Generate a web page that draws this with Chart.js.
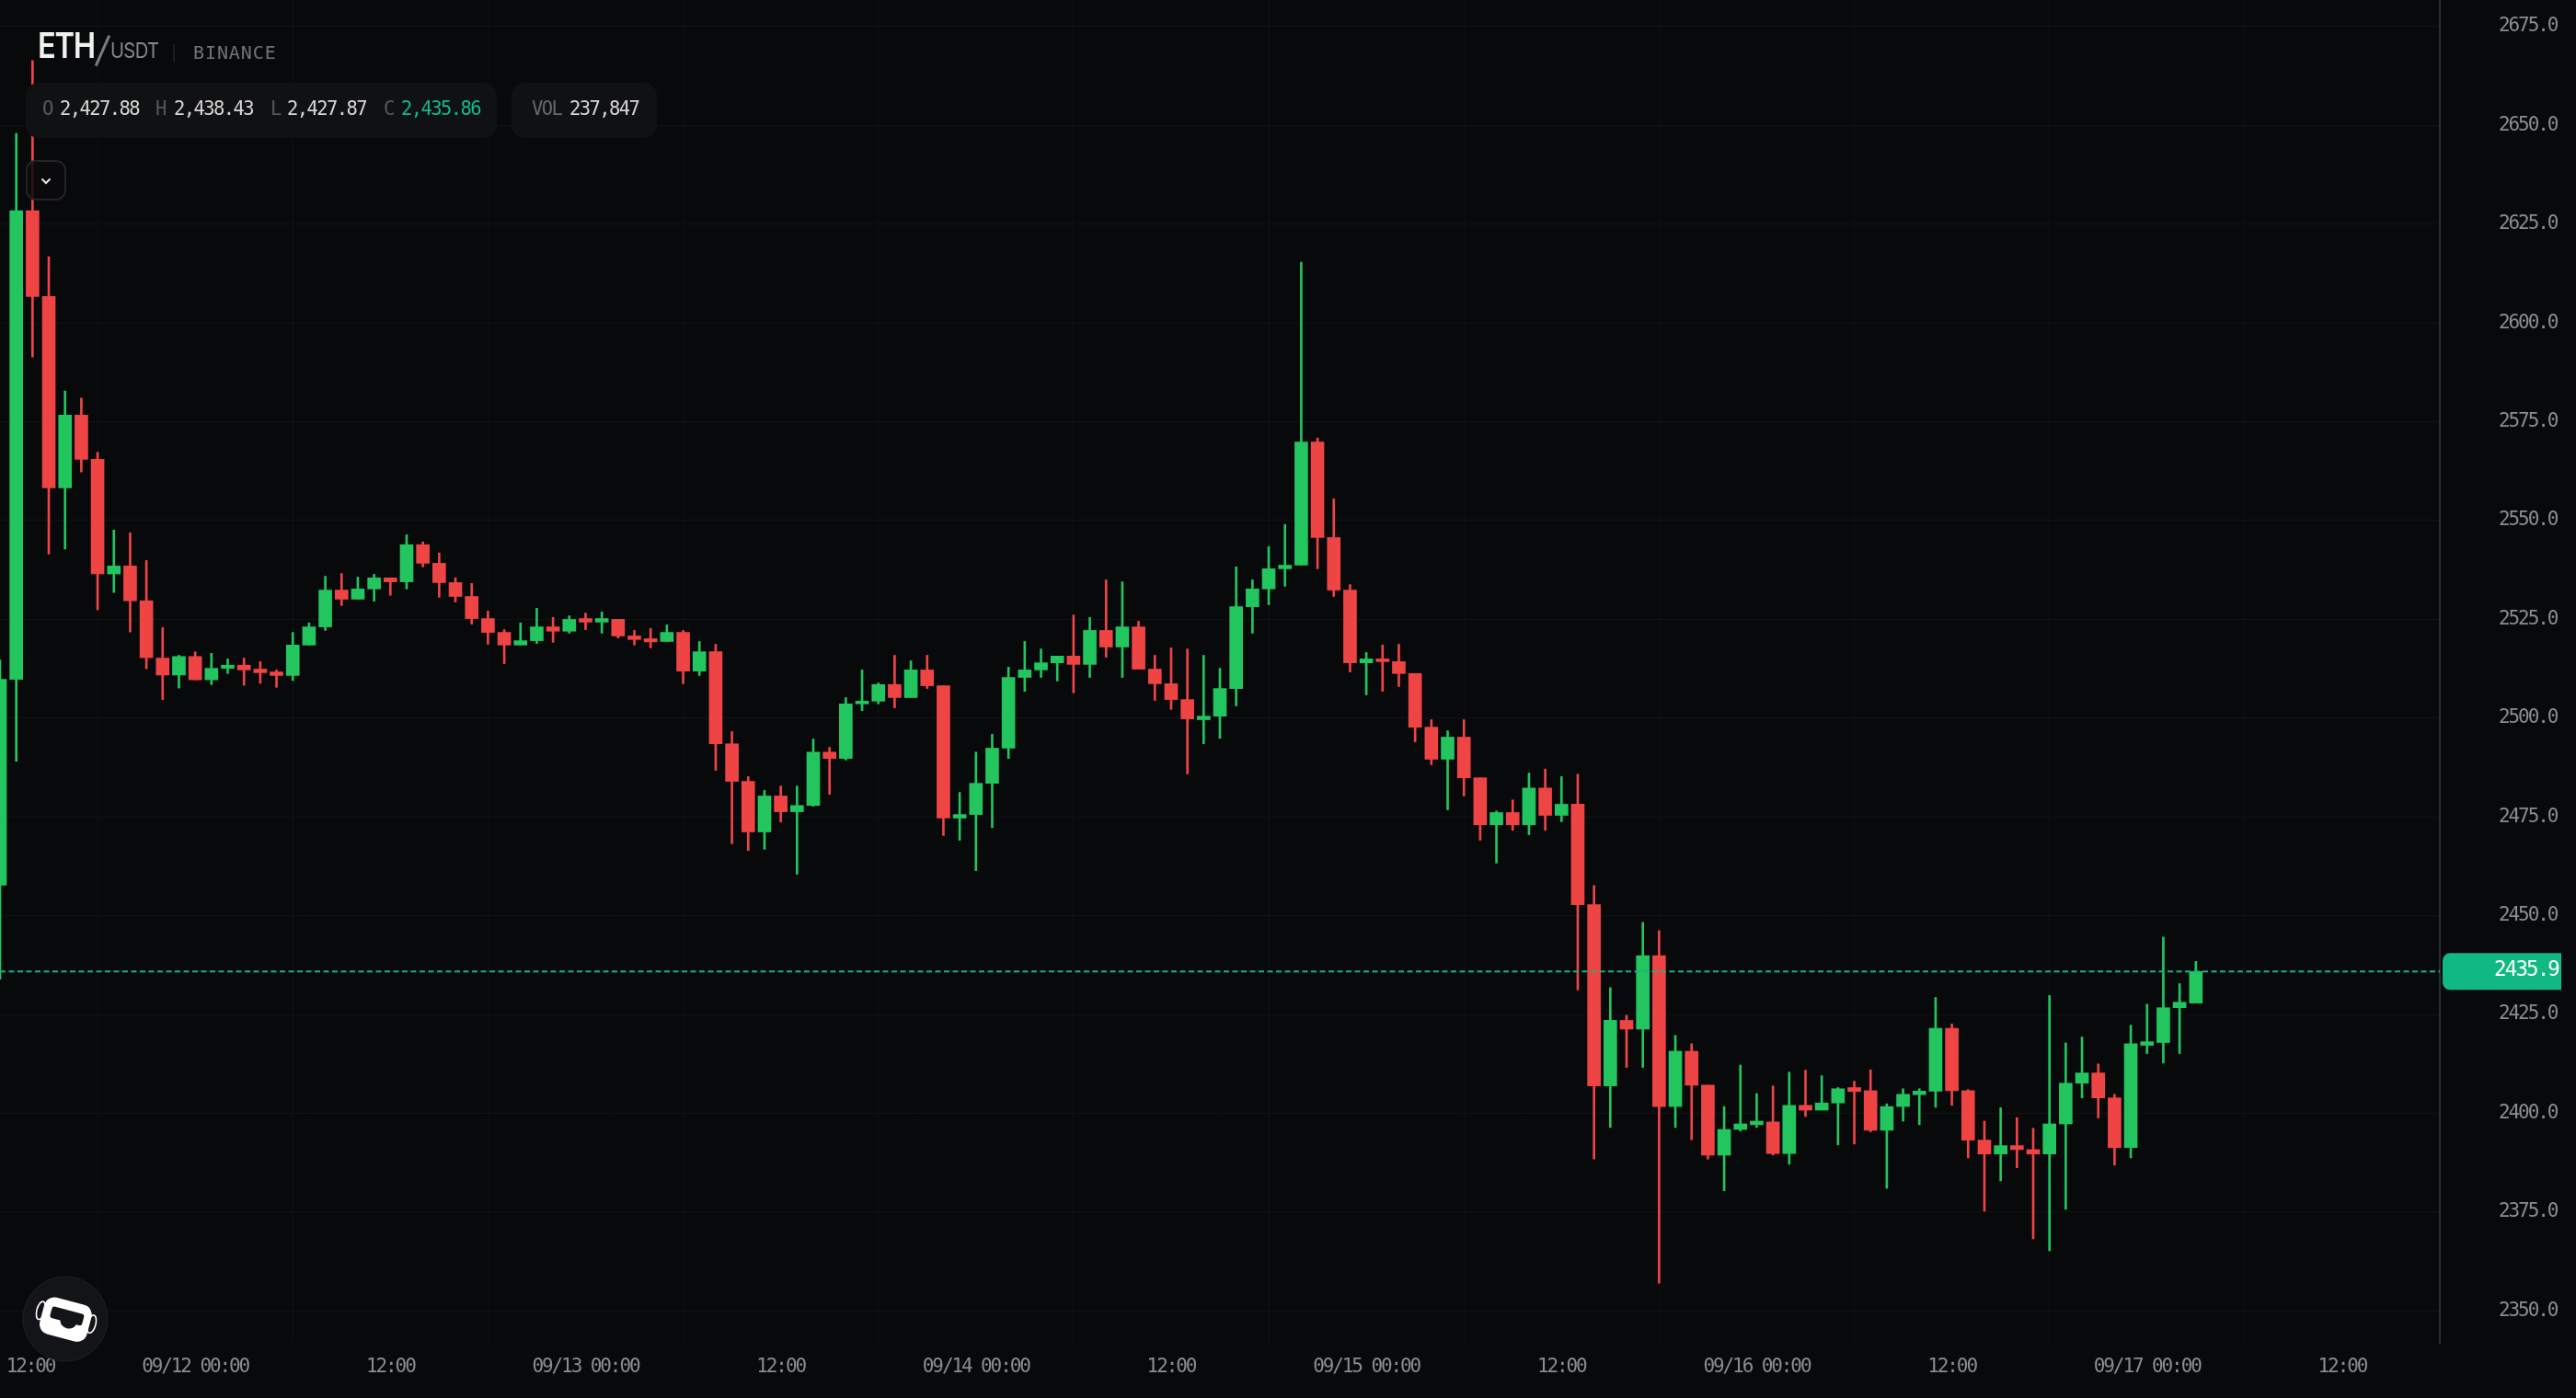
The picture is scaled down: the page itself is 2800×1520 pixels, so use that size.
<!DOCTYPE html>
<html>
<head>
<meta charset="utf-8">
<title>ETH/USDT</title>
<script src="https://cdn.jsdelivr.net/npm/chart.js@4"></script>
<style>
html, body { margin: 0; background: #08090b; overflow: hidden; }
#wrap { position: relative; width: 2800px; height: 1520px; }
canvas { position: absolute; left: 0; top: 0; }
.t { position: absolute; white-space: nowrap; font-family: "DejaVu Sans Mono", monospace; font-size: 20.5px; letter-spacing: -1.6px; line-height: 24px; color: #d6d6d6; }
.dim { color: #55575c; }
.pill { position: absolute; background: #101113; border-radius: 14px; top: 90px; height: 60px; }
#eth { left: 41px; top: 26px; font: 600 38px/46px Inter, sans-serif; color: #f0f0f0; letter-spacing: -1.5px; transform: scaleX(.86); transform-origin: left top; }
#slash { left: 110px; top: 37px; width: 2.5px; height: 36px; background: #7a7c82; transform: rotate(24deg); position: absolute; }
#usdt { left: 120px; top: 41px; font: 400 23px/28px Inter, sans-serif; color: #84868c; letter-spacing: -.8px; transform: scaleX(.88); transform-origin: left top; }
#sep { position: absolute; left: 188px; top: 48px; width: 2px; height: 20px; background: #1b1c1f; }
#binance { left: 210px; top: 45px; font: 400 20px/24px "DejaVu Sans Mono", monospace; color: #6f7278; letter-spacing: .9px; }
#toggle { position: absolute; left: 28px; top: 174px; width: 40px; height: 40px; border: 2px solid #222327; border-radius: 11px; background: rgba(10,11,13,.85); }
#logo { position: absolute; left: 24px; top: 1387px; }
</style>
</head>
<body>
<div id="wrap">
  <canvas id="chart" width="2800" height="1520"></canvas>

  <div class="t" id="eth">ETH</div>
  <div id="slash"></div>
  <div class="t" id="usdt">USDT</div>
  <div id="sep"></div>
  <div class="t" id="binance">BINANCE</div>

  <div class="pill" style="left:28px;width:512px"></div>
  <div class="pill" style="left:556px;width:158px"></div>
  <div class="t dim" style="left:46px;top:106px">O</div>
  <div class="t" style="left:65px;top:106px">2,427.88</div>
  <div class="t dim" style="left:169px;top:106px">H</div>
  <div class="t" style="left:189px;top:106px">2,438.43</div>
  <div class="t dim" style="left:294px;top:106px">L</div>
  <div class="t" style="left:312px;top:106px">2,427.87</div>
  <div class="t dim" style="left:417px;top:106px">C</div>
  <div class="t" style="left:436px;top:106px;color:#14b98a">2,435.86</div>
  <div class="t dim" style="left:578px;top:106px;color:#66686d">VOL</div>
  <div class="t" style="left:619px;top:106px">237,847</div>

  <div id="toggle">
    <svg width="40" height="40" viewBox="0 0 40 40"><path d="M15.5 18.5 L20 23 L24.5 18.5" fill="none" stroke="#e8e8e8" stroke-width="2"/></svg>
  </div>

  <svg id="logo" width="94" height="94" viewBox="-47 -47 94 94">
    <circle cx="0" cy="0" r="46" fill="#131417" stroke="#202125" stroke-width="1"/>
    <g transform="rotate(15)">
      <rect x="-26" y="-20" width="53" height="41" rx="11" fill="#fff"/>
      <path d="M-14 -10 H16 a3 3 0 0 1 3 3 V0 a3 3 0 0 1 -3 3 H13 a9.5 9.5 0 0 1 -18 0 H-14 a3 3 0 0 1 -3 -3 V-7 a3 3 0 0 1 3 -3 Z" fill="#131417"/>
      <ellipse cx="-28" cy="-2" rx="4.5" ry="10" fill="none" stroke="#fff" stroke-width="1.6"/>
      <ellipse cx="29" cy="-2" rx="4.5" ry="10" fill="none" stroke="#fff" stroke-width="1.6"/>
    </g>
  </svg>
</div>

<script>
// hourly candles, first one is 09/11 12:00
const opens = [2457.7,2509.8,2628.4,2606.7,2558.3,2576.7,2565.5,2536.5,2538.5,2529.7,
  2515.2,2510.9,2515.6,2509.7,2512.6,2513.4,2512.4,2511.7,2510.8,2518.5,
  2523.1,2532.4,2530.1,2532.7,2535.5,2534.5,2543.9,2539.2,2534.3,2530.8,
  2525.2,2521.7,2518.5,2519.6,2523.1,2522,2525.2,2524.3,2525,2520.8,
  2520.1,2519.4,2521.7,2511.9,2516.8,2493.5,2484,2471.2,2480.3,2476.3,
  2477.9,2491.4,2489.8,2503.6,2504.3,2508.5,2505.2,2512.2,2508.2,2474.7,
  2475.6,2483.5,2492.4,2510.3,2512.2,2514,2515.7,2513.6,2522.2,2518,
  2523.1,2512.4,2508.7,2504.7,2499.6,2500.5,2507.5,2528.2,2532.7,2537.8,
  2538.7,2569.9,2545.7,2532.4,2514,2515,2514.3,2511.3,2497.7,2489.6,
  2495.2,2484.9,2473,2476.1,2473,2482.3,2475.4,2478.2,2452.8,2406.9,
  2423.5,2421.3,2439.9,2401.7,2415.7,2407.1,2389.4,2395.9,2397.1,2397.8,
  2389.8,2402,2400.8,2402.6,2406.5,2405.7,2395.7,2401.7,2404.7,2405.6,
  2421.5,2405.7,2393.2,2389.7,2391.8,2390.8,2389.7,2397.3,2407.6,2410.2,
  2403.9,2391.3,2417.2,2417.9,2426.7,2427.88];
const closes = [2509.8,2628.4,2606.7,2558.3,2576.7,2565.5,2536.5,2538.5,2529.7,2515.3,
  2510.9,2515.6,2509.7,2512.6,2513.4,2512.2,2511.5,2510.8,2518.5,2523.1,
  2532.4,2530.1,2532.7,2535.5,2534.5,2543.9,2539.2,2534.3,2530.8,2525.2,
  2521.7,2518.5,2519.6,2523.1,2522,2525,2524.3,2525.2,2520.8,2519.9,
  2519.3,2521.7,2511.9,2516.8,2493.5,2484,2471.2,2480.3,2476.3,2477.9,
  2491.4,2489.8,2503.6,2504.3,2508.5,2505.2,2512.2,2508.2,2474.7,2475.6,
  2483.5,2492.4,2510.3,2512.2,2514,2515.7,2513.6,2522.2,2518,2523.1,
  2512.4,2508.7,2504.7,2499.8,2500.5,2507.5,2528.2,2532.7,2537.8,2538.7,
  2569.9,2545.7,2532.4,2514,2515,2514.3,2511.3,2497.7,2489.6,2495.2,
  2484.9,2473,2476.1,2473,2482.3,2475.4,2478.2,2452.8,2406.9,2423.5,
  2421.3,2439.9,2401.7,2415.7,2407.1,2389.4,2395.9,2397.3,2398,2389.8,
  2402,2400.8,2402.6,2406.2,2405.5,2395.7,2401.7,2404.8,2405.6,2421.5,
  2405.7,2393.2,2389.7,2391.8,2390.8,2389.7,2397.3,2407.6,2410.2,2403.9,
  2391.3,2417.6,2418.1,2426.7,2428.1,2435.86];
const highs = [2514.7,2648,2666.4,2616.8,2582.8,2581,2567.3,2547.6,2546.9,2539.9,
  2522.9,2515.9,2516.8,2516.4,2515,2515.2,2514.3,2512.2,2521.7,2524.1,
  2535.9,2536.6,2535.7,2536.4,2535.5,2546.4,2544.6,2541.8,2535.5,2534.1,
  2527.1,2522.4,2524.1,2527.8,2525.5,2525.9,2526.6,2526.9,2525,2522.2,
  2522.7,2523.6,2522.2,2519.4,2518.7,2496.6,2485.2,2481.7,2482.8,2482.8,
  2494.7,2492.6,2505.2,2512.2,2508.9,2515.9,2514.5,2515.9,2508.2,2481.2,
  2491.4,2495.9,2512.9,2519.4,2517.5,2515.7,2526.1,2525.5,2535,2534.5,
  2524.5,2515.9,2517.8,2517.5,2515.9,2512.6,2538.3,2535,2543.4,2549,
  2615.4,2570.9,2555.5,2533.8,2516.6,2518.5,2518.7,2511.3,2499.6,2496.8,
  2499.6,2484.9,2476.5,2479.3,2486.1,2487.1,2485.2,2485.8,2457.6,2431.8,
  2424.8,2448.3,2446.2,2419.7,2417.6,2407.1,2401.7,2412.2,2405,2406.9,
  2410.4,2410.9,2409.5,2406.5,2408.1,2411,2402.4,2406.2,2406.2,2429.3,
  2422.6,2406,2398,2401.4,2398.9,2396.2,2429.8,2417.8,2419.3,2412.5,
  2404.8,2422.3,2427.6,2444.6,2432.8,2438.43];
const lows = [2433.9,2489.1,2591.4,2541.5,2542.8,2562.3,2527.4,2531.8,2521.8,2512.5,
  2504.7,2507.6,2509.7,2508.5,2511.3,2508.3,2508.8,2507.8,2509.5,2518.5,
  2522.2,2528.5,2530.1,2529.6,2531.1,2532.7,2538.3,2530.6,2529.4,2523.8,
  2518.7,2513.8,2518.5,2518.9,2519.2,2521.5,2522.4,2521.5,2520.3,2518.5,
  2517.8,2519.4,2508.7,2510.8,2486.8,2468.2,2466.5,2466.8,2473.7,2460.5,
  2477.7,2480.7,2489.4,2501.9,2503.6,2502.6,2505.2,2507.5,2470.3,2469.1,
  2461.4,2472.3,2489.8,2506.8,2510.3,2509.4,2506.4,2510.3,2515.4,2510.3,
  2512.4,2504.5,2502.2,2485.9,2493.5,2494.9,2503.1,2521.5,2528.7,2533.4,
  2538.7,2537.8,2530.8,2511.7,2505.9,2506.8,2508,2494,2488.2,2476.8,
  2480.3,2469.1,2463.3,2471.6,2470.5,2471.6,2473.8,2431.2,2388.4,2396.4,
  2411.6,2411.6,2357,2396.4,2393.3,2388.4,2380.4,2395.5,2396.4,2389.4,
  2387.1,2399.2,2400.8,2392,2392.2,2395.3,2381,2398,2397.1,2401.5,
  2402,2388.7,2375.2,2382.9,2386.2,2368.2,2365.2,2375.7,2403.9,2398.8,
  2386.9,2388.7,2415.1,2412.7,2415.1,2427.87];

const priceTicks = [2350,2375,2400,2425,2450,2475,2500,2525,2550,2575,2600,2625,2650,2675];
const timeTicks = [0,12,24,36,48,60,72,84,96,108,120,132,144];
const timeLabels = ["12:00","09/12 00:00","12:00","09/13 00:00","12:00","09/14 00:00","12:00","09/15 00:00","12:00","09/16 00:00","12:00","09/17 00:00","12:00"];
const lastPrice = 2435.86;

const upColor = "#22c55e";
const downColor = "#ef4444";
const tagColor = "#10b981";
const candleColors = opens.map((o, i) => closes[i] >= o ? upColor : downColor);

const gridX = "#0e0f12";
const gridY = "#101114";
const tickColor = "#8b8c90";
const tickFont = { family: "'DejaVu Sans Mono', monospace", size: 21 };

// narrow the axis text, shift the first time label inside the canvas, price tag on the right axis
const chartDecor = {
    id: "chartDecor",
    beforeDraw(chart) {
        chart.ctx.letterSpacing = "-2.1px";
        const first = chart.scales.x.getLabelItems(chart.chartArea)[0];
        first.options.translation[0] = 33;
    },
    afterDraw(chart) {
        const { ctx } = chart;
        const y = chart.scales.y.getPixelForValue(lastPrice);
        ctx.save();
        ctx.fillStyle = tagColor;
        ctx.beginPath();
        ctx.roundRect(chart.chartArea.right + 3, y - 20, 129, 40, [8, 0, 0, 8]);
        ctx.fill();
        ctx.fillStyle = "#ffffff";
        ctx.font = "500 22.5px 'DejaVu Sans Mono', monospace";
        ctx.letterSpacing = "-1.9px";
        ctx.textAlign = "right";
        ctx.textBaseline = "middle";
        ctx.fillText(lastPrice.toFixed(1), 2781, y - 1);
        ctx.restore();
    }
};

new Chart(document.getElementById("chart"), {
    type: "bar",
    plugins: [chartDecor],
    data: {
        datasets: [
            {
                type: "line",
                order: 0,
                data: [{ x: 0, y: lastPrice }, { x: 150, y: lastPrice }],
                borderColor: "#1bb088",
                borderWidth: 2,
                borderDash: [6, 3.5],
                pointRadius: 0
            },
            {
                order: 1,
                grouped: false,
                barThickness: 14,
                data: opens.map((o, i) => ({ x: i, y: [o, closes[i]] })),
                backgroundColor: candleColors
            },
            {
                order: 2,
                grouped: false,
                barThickness: 2,
                data: opens.map((o, i) => ({ x: i, y: [lows[i], highs[i]] })),
                backgroundColor: candleColors
            }
        ]
    },
    options: {
        responsive: false,
        animation: false,
        devicePixelRatio: 1,
        layout: { padding: 0 },
        plugins: { legend: { display: false }, tooltip: { enabled: false } },
        scales: {
            x: {
                type: "linear",
                offset: false,
                min: 0,
                max: 150,
                afterBuildTicks: s => { s.ticks = timeTicks.map(value => ({ value })); },
                afterFit: s => { s.height = 60; s.paddingLeft = 0; s.paddingRight = 0; },
                grid: { color: gridX, drawTicks: false },
                border: { display: false },
                ticks: {
                    autoSkip: false,
                    maxRotation: 0,
                    padding: 14,
                    color: tickColor,
                    font: tickFont,
                    callback: (v, i) => timeLabels[i]
                }
            },
            y: {
                type: "linear",
                position: "right",
                min: 2341.9,
                max: 2681.75,
                afterBuildTicks: s => { s.ticks = priceTicks.map(value => ({ value })); },
                afterFit: s => { s.width = 148; s.paddingTop = 0; s.paddingBottom = 0; },
                grid: { color: gridY, drawTicks: false },
                border: { display: true, color: "#2b2c35", width: 2 },
                ticks: {
                    padding: 64,
                    color: tickColor,
                    font: tickFont,
                    callback: v => v.toFixed(1)
                }
            }
        }
    }
});
</script>
</body>
</html>
